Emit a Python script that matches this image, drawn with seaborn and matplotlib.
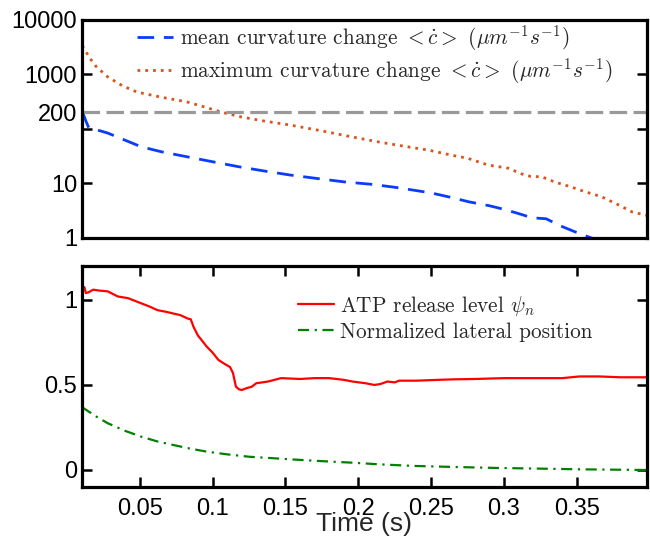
import matplotlib
matplotlib.use('Agg')
import matplotlib.pyplot as plt
import seaborn as sns

# curvature change (top panel, log scale)
T_MEAN = [0.0103, 0.0115, 0.013, 0.015, 0.02, 0.028, 0.04, 0.051, 0.065,
          0.082, 0.1, 0.119, 0.135, 0.153, 0.17, 0.19, 0.21, 0.228, 0.25,
          0.263, 0.276, 0.29, 0.301, 0.312, 0.319, 0.329, 0.338, 0.349,
          0.36, 0.37]
MEAN_CURV = [200, 180, 140, 105, 97, 84, 62, 47, 38, 31, 25, 20, 17, 14.3,
             12.5, 10.7, 9.6, 8.3, 6.7, 5.6, 4.6, 3.9, 3.3, 2.7, 2.35, 2.25,
             1.7, 1.29, 1.0, 0.85]

T_MAX = [0.0103, 0.012, 0.015, 0.02, 0.028, 0.038, 0.048, 0.065, 0.082,
         0.095, 0.107, 0.12, 0.135, 0.153, 0.175, 0.196, 0.215, 0.238,
         0.248, 0.264, 0.275, 0.289, 0.303, 0.312, 0.318, 0.326, 0.335,
         0.345, 0.356, 0.367, 0.379, 0.388, 0.398]
MAX_CURV = [3300, 3000, 2100, 1400, 900, 620, 475, 380, 315, 250, 200, 165,
            140, 118, 92, 71, 57, 45, 41, 33, 29, 21.8, 19, 15, 13.5, 13.2,
            10.6, 8.8, 7, 5.7, 4.0, 3.0, 2.6]

THRESHOLD = 200

# ATP release and lateral position (bottom panel)
T_ATP = [0.0103, 0.012, 0.013, 0.015, 0.018, 0.022, 0.028, 0.035, 0.042,
         0.051, 0.057, 0.062, 0.068, 0.073, 0.078, 0.083, 0.085, 0.087,
         0.09, 0.096, 0.1, 0.104, 0.108, 0.112, 0.114, 0.116, 0.118, 0.12,
         0.123, 0.127, 0.13, 0.138, 0.147, 0.16, 0.17, 0.18, 0.19, 0.196,
         0.205, 0.211, 0.215, 0.22, 0.225, 0.228, 0.24, 0.255, 0.266, 0.28,
         0.3, 0.323, 0.34, 0.352, 0.365, 0.38, 0.398]
ATP = [1.07, 1.075, 1.04, 1.045, 1.06, 1.055, 1.05, 1.02, 1.01, 0.98, 0.96,
       0.94, 0.93, 0.92, 0.91, 0.89, 0.886, 0.84, 0.79, 0.725, 0.69, 0.647,
       0.625, 0.605, 0.57, 0.49, 0.475, 0.47, 0.48, 0.49, 0.51, 0.52, 0.54,
       0.535, 0.54, 0.54, 0.53, 0.52, 0.51, 0.50, 0.505, 0.52, 0.515, 0.525,
       0.525, 0.53, 0.533, 0.535, 0.54, 0.54, 0.54, 0.55, 0.55, 0.545, 0.545]

T_LAT = [0.0103, 0.02, 0.028, 0.04, 0.051, 0.062, 0.073, 0.085, 0.096, 0.11,
         0.125, 0.14, 0.153, 0.175, 0.196, 0.215, 0.238, 0.265, 0.295,
         0.325, 0.352, 0.375, 0.398]
LATERAL = [0.37, 0.315, 0.275, 0.23, 0.196, 0.168, 0.147, 0.125, 0.108,
           0.092, 0.078, 0.07, 0.063, 0.052, 0.043, 0.033, 0.024, 0.018,
           0.012, 0.008, 0.004, 0.002, 0.0]

X_TICKS = [0.05, 0.1, 0.15, 0.2, 0.25, 0.3, 0.35]
X_TICK_LABELS = ['0.05', '0.1', '0.15', '0.2', '0.25', '0.3', '0.35']
TOP_Y_TICKS = [1, 10, 100, 200, 1000, 10000]
TOP_Y_LABELS = ['1', '10', '', '200', '1000', '10000']
BOT_Y_TICKS = [0, 0.5, 1]
BOT_Y_LABELS = ['0', '0.5', '1']

sns.set_style('ticks')
plt.rcParams['font.family'] = ['Liberation Sans', 'DejaVu Sans']
plt.rcParams['mathtext.fontset'] = 'cm'

LEGEND_FONT = {'family': 'cmr10', 'size': 15.3}

fig = plt.figure(figsize=(6.5, 5.36), dpi=100)
ax_top = fig.add_axes([0.126, 0.556, 0.869, 0.407])
ax_bot = fig.add_axes([0.126, 0.0914, 0.869, 0.4126])


def style_axes(ax):
    for sp in ax.spines.values():
        sp.set_linewidth(2.3)
        sp.set_color('black')
    ax.tick_params(which='both', direction='in', top=True, right=True,
                   width=1.8, labelsize=17, colors='black')
    ax.tick_params(which='major', length=7)
    ax.tick_params(which='minor', length=4)


# top panel
sns.lineplot(x=T_MEAN, y=MEAN_CURV, ax=ax_top, color='#0a3cff', lw=2,
             linestyle=(0, (6, 3.5)),
             label=r'mean curvature change $<\dot{c}>$ $(\mu m^{-1} s^{-1})$')
sns.lineplot(x=T_MAX, y=MAX_CURV, ax=ax_top, color='#d9531a', lw=2,
             linestyle=(0, (1, 1.8)),
             label=r'maximum curvature change $<\dot{c}>$ $(\mu m^{-1} s^{-1})$')
ax_top.axhline(THRESHOLD, color='#999999', lw=2.3, linestyle=(0, (5.5, 2)))
ax_top.set_yscale('log')
ax_top.set_ylim(1, 10000)
ax_top.set_xlim(0.0103, 0.398)
ax_top.set_yticks(TOP_Y_TICKS)
ax_top.set_yticklabels(TOP_Y_LABELS)
style_axes(ax_top)
ax_top.tick_params(axis='x', which='both', bottom=False, top=False,
                   labelbottom=False)
ax_top.set_xlabel('')
ax_top.legend(loc='upper left', bbox_to_anchor=(0.211, 0.957),
              bbox_transform=fig.transFigure, frameon=False, prop=LEGEND_FONT,
              handlelength=1.7, handletextpad=0.3, labelspacing=0.18,
              borderpad=0, borderaxespad=0)

# bottom panel
sns.lineplot(x=T_ATP, y=ATP, ax=ax_bot, color='#ff0000', lw=1.6,
             label=r'ATP release level $\psi_n$')
sns.lineplot(x=T_LAT, y=LATERAL, ax=ax_bot, color='#008000', lw=1.6,
             linestyle=(0, (5, 2.5, 1, 2.5)),
             label='Normalized lateral position')
ax_bot.set_xlim(0.0103, 0.398)
ax_bot.set_ylim(-0.1, 1.2)
ax_bot.set_xticks(X_TICKS)
ax_bot.set_xticklabels(X_TICK_LABELS)
ax_bot.set_yticks(BOT_Y_TICKS)
ax_bot.set_yticklabels(BOT_Y_LABELS)
style_axes(ax_bot)
ax_bot.tick_params(axis='x', pad=8)
ax_bot.set_xlabel('Time (s)', fontsize=19)
ax_bot.xaxis.set_label_coords(0.5, -0.115)
ax_bot.legend(loc='upper left', bbox_to_anchor=(0.458, 0.452),
              bbox_transform=fig.transFigure, frameon=False, prop=LEGEND_FONT,
              handlelength=1.7, handletextpad=0.3, labelspacing=0.22,
              borderpad=0, borderaxespad=0)

fig.savefig('out.png', dpi=100)
